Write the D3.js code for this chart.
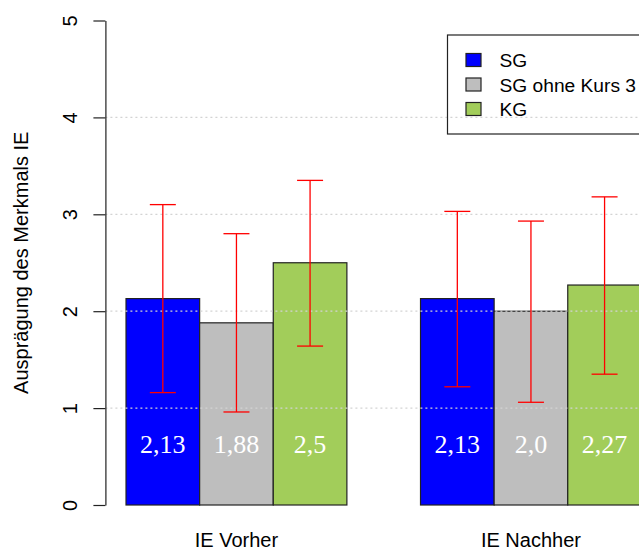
<!DOCTYPE html>
<html>
<head>
<meta charset="utf-8">
<script src="https://cdn.jsdelivr.net/npm/d3@7"></script>
<style>
  body { margin: 0; background: #fff; }
  svg { display: block; font-family: "Liberation Sans", Arial, sans-serif; }
</style>
</head>
<body>
<div id="chart"></div>
<script>
// data
var groups = ['IE Vorher', 'IE Nachher'];
var series = ['SG', 'SG ohne Kurs 3', 'KG'];
var colors = ['#0000ff', '#bebebe', '#a2cd5a'];
var means = [[2.13, 1.88, 2.5], [2.13, 2.0, 2.27]];
var lower = [[1.16, 0.96, 1.64], [1.22, 1.06, 1.35]];
var upper = [[3.10, 2.80, 3.35], [3.03, 2.93, 3.18]];
var valueLabels = [['2,13', '1,88', '2,5'], ['2,13', '2,0', '2,27']];
var yTicks = [0, 1, 2, 3, 4, 5];
var gridTicks = [1, 2, 3, 4];

var width = 639;
var height = 551;
var fontSize = '20px';

var svg = d3.select('#chart').append('svg')
    .attr('width', width)
    .attr('height', height);

// bar units like R barplot(beside=TRUE, space=c(0,1))
var x = d3.scaleLinear().domain([0.72, 8.28]).range([105.4, 662]);
var y = d3.scaleLinear().domain([0, 5]).range([505, 20.5]);

var data = [];
means.forEach(function(row, g) {
    row.forEach(function(v, s) {
        data.push({
            g: g,
            s: s,
            left: 1 + g * (series.length + 1) + s,
            val: v,
            lo: lower[g][s],
            hi: upper[g][s],
            label: valueLabels[g][s]
        });
    });
});

var plot = svg.append('g');

plot.selectAll('rect.bar')
    .data(data)
    .enter()
    .append('rect')
        .attr('class', 'bar')
        .attr('x', function(d) { return x(d.left); })
        .attr('y', function(d) { return y(d.val); })
        .attr('width', function(d) { return x(d.left + 1) - x(d.left); })
        .attr('height', function(d) { return y(0) - y(d.val); })
        .attr('fill', function(d) { return colors[d.s]; })
        .attr('stroke', '#222')
        .attr('stroke-width', 1.2);

// dotted grid drawn over the bars
plot.selectAll('line.grid')
    .data(gridTicks)
    .enter()
    .append('line')
        .attr('class', 'grid')
        .attr('x1', x(0.72))
        .attr('x2', x(8.28))
        .attr('y1', function(d) { return y(d); })
        .attr('y2', function(d) { return y(d); })
        .attr('stroke', '#d3d3d3')
        .attr('stroke-width', 1.2)
        .attr('stroke-dasharray', '2,3');

// error bars
var capHalf = 13;
var err = plot.selectAll('g.err')
    .data(data)
    .enter()
    .append('g')
        .attr('class', 'err')
        .attr('stroke', '#ff0000')
        .attr('stroke-width', 1.3);

err.append('line')
    .attr('x1', function(d) { return x(d.left + 0.5); })
    .attr('x2', function(d) { return x(d.left + 0.5); })
    .attr('y1', function(d) { return y(d.lo); })
    .attr('y2', function(d) { return y(d.hi); });

['lo', 'hi'].forEach(function(k) {
    err.append('line')
        .attr('x1', function(d) { return x(d.left + 0.5) - capHalf; })
        .attr('x2', function(d) { return x(d.left + 0.5) + capHalf; })
        .attr('y1', function(d) { return y(d[k]); })
        .attr('y2', function(d) { return y(d[k]); });
});

// value labels inside the bars
plot.selectAll('text.val')
    .data(data)
    .enter()
    .append('text')
        .attr('class', 'val')
        .attr('x', function(d) { return x(d.left + 0.5); })
        .attr('y', y(0.6))
        .attr('dy', '0.25em')
        .attr('text-anchor', 'middle')
        .attr('fill', '#fff')
        .style('font-family', '"Liberation Serif", "Times New Roman", serif')
        .style('font-size', '26px')
        .text(function(d) { return d.label; });

// y axis
var yAxis = svg.append('g')
    .attr('transform', 'translate(' + x(0.72) + ',0)')
    .call(d3.axisLeft(y).tickValues(yTicks).tickSize(12).tickSizeOuter(0).tickFormat(d3.format('d')));

yAxis.select('.domain').attr('stroke', '#222').attr('stroke-width', 1.2);
yAxis.selectAll('.tick line').attr('stroke', '#222').attr('stroke-width', 1.2);
yAxis.selectAll('.tick text')
    .attr('x', null)
    .attr('dy', null)
    .attr('text-anchor', 'middle')
    .attr('transform', 'translate(-28.5,0) rotate(-90)')
    .attr('fill', '#000')
    .style('font-size', fontSize)
    .style('font-family', '"Liberation Sans", Arial, sans-serif');

svg.append('text')
    .attr('transform', 'translate(28,' + y(2.5) + ') rotate(-90)')
    .attr('text-anchor', 'middle')
    .style('font-size', fontSize)
    .text('Ausprägung des Merkmals IE');

// group labels
svg.selectAll('text.grp')
    .data(groups)
    .enter()
    .append('text')
        .attr('class', 'grp')
        .attr('x', function(d, i) { return x(1 + i * (series.length + 1) + series.length / 2); })
        .attr('y', 546.5)
        .attr('text-anchor', 'middle')
        .style('font-size', fontSize)
        .text(function(d) { return d; });

// legend
var legend = svg.append('g').attr('transform', 'translate(447.5,35)');
legend.append('rect')
    .attr('width', 230)
    .attr('height', 99)
    .attr('fill', 'none')
    .attr('stroke', '#222')
    .attr('stroke-width', 1.2);

var items = legend.selectAll('g.item')
    .data(series)
    .enter()
    .append('g')
        .attr('class', 'item')
        .attr('transform', function(d, i) { return 'translate(0,' + (25 + i * 24.5) + ')'; });

items.append('rect')
    .attr('x', 18.5)
    .attr('y', -6.5)
    .attr('width', 15)
    .attr('height', 13)
    .attr('fill', function(d, i) { return colors[i]; })
    .attr('stroke', '#222')
    .attr('stroke-width', 1.2);

items.append('text')
    .attr('x', 52)
    .attr('y', 7)
    .style('font-size', '19.2px')
    .text(function(d) { return d; });
</script>
</body>
</html>
